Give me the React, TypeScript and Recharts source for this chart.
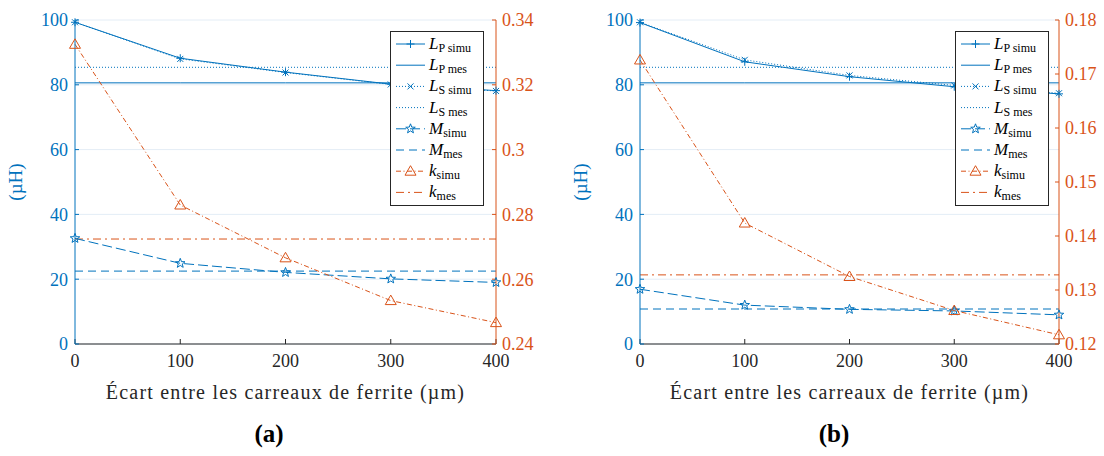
import React from "react";
import {
  ComposedChart,
  Line,
  XAxis,
  YAxis,
  CartesianGrid,
  Legend,
} from "recharts";

const BLUE = "#0072BD";
const ORANGE = "#D95319";
const DARK = "#262626";
const FONT = "Liberation Serif, DejaVu Serif, serif";

const X_VALUES = [0, 100, 200, 300, 400];
const X_TICKS = [0, 100, 200, 300, 400];
const L_TICKS = [0, 20, 40, 60, 80, 100];
const X_TITLE = "Écart entre les carreaux de ferrite (µm)";

// (a)
const LP_SIMU_A = [99.3, 88.2, 83.9, 80.2, 78.2];
const LS_SIMU_A = [99.3, 88.0, 83.8, 80.1, 78.1];
const LP_MES_A = 80.6;
const LS_MES_A = 85.4;
const M_SIMU_A = [32.6, 24.9, 22.1, 20.1, 19.0];
const M_MES_A = 22.5;
const K_SIMU_A = [0.3325, 0.2829, 0.2666, 0.2534, 0.2466];
const K_MES_A = 0.2724;
const K_TICKS_A = [0.24, 0.26, 0.28, 0.3, 0.32, 0.34];

// (b)
const LP_SIMU_B = [99.2, 87.1, 82.5, 79.4, 77.2];
const LS_SIMU_B = [99.3, 87.7, 82.9, 79.8, 77.4];
const LP_MES_B = 80.6;
const LS_MES_B = 85.4;
const M_SIMU_B = [16.9, 12.0, 10.7, 10.2, 9.0];
const M_MES_B = 10.8;
const K_SIMU_B = [0.1726, 0.1424, 0.1325, 0.1262, 0.1217];
const K_MES_B = 0.1328;
const K_TICKS_B = [0.12, 0.13, 0.14, 0.15, 0.16, 0.17, 0.18];

// marker shapes
const plusPath = (x: number, y: number) => `M${x - 4},${y}H${x + 4}M${x},${y - 4}V${y + 4}`;
const crossPath = (x: number, y: number) =>
  `M${x - 3},${y - 3}L${x + 3},${y + 3}M${x - 3},${y + 3}L${x + 3},${y - 3}`;
const starPath = (x: number, y: number) => {
  const pts: string[] = [];
  for (let i = 0; i < 10; i++) {
    const r = i % 2 === 0 ? 5 : 2.1;
    const a = -Math.PI / 2 + (i * Math.PI) / 5;
    pts.push(`${(x + r * Math.cos(a)).toFixed(2)},${(y + r * Math.sin(a)).toFixed(2)}`);
  }
  return "M" + pts.join("L") + "Z";
};
const triPath = (x: number, y: number) => `M${x},${y - 5.5}L${x + 5.5},${y + 4}L${x - 5.5},${y + 4}Z`;

const makeDot = (shape: (x: number, y: number) => string, color: string) => (p: any) => (
  <path
    key={`dot-${p.index}`}
    d={p.cx == null ? "" : shape(p.cx, p.cy)}
    stroke={color}
    strokeWidth={1}
    fill="none"
  />
);

const LEGEND_ROWS = [
  { main: "L", sub: "P simu", color: BLUE, dash: undefined, marker: plusPath },
  { main: "L", sub: "P mes", color: BLUE, dash: undefined, marker: null },
  { main: "L", sub: "S simu", color: BLUE, dash: "1 2", marker: crossPath },
  { main: "L", sub: "S mes", color: BLUE, dash: "1 2", marker: null },
  { main: "M", sub: "simu", color: BLUE, dash: "10 4", marker: starPath },
  { main: "M", sub: "mes", color: BLUE, dash: "8 5", marker: null },
  { main: "k", sub: "simu", color: ORANGE, dash: "5 2.5 1 2.5", marker: triPath },
  { main: "k", sub: "mes", color: ORANGE, dash: "8 4 2 4", marker: null },
];

const LegendBox = () => (
  <div style={{ border: `1px solid ${DARK}`, background: "#fff", width: 92, height: 173 }}>
    <svg width={92} height={173} style={{ display: "block" }}>
      {LEGEND_ROWS.map((r, i) => {
        const y = 12 + i * 21.2;
        return (
          <g key={i}>
            <line x1={5} x2={34} y1={y} y2={y} stroke={r.color} strokeDasharray={r.dash} />
            {r.marker && <path d={r.marker(19.5, y)} stroke={r.color} fill="none" />}
            <text x={38} y={y + 5} fill="#000" fontSize={17} fontFamily={FONT}>
              <tspan fontStyle="italic">{r.main}</tspan>
              <tspan fontSize={12} dy={3}>
                {r.sub}
              </tspan>
            </text>
          </g>
        );
      })}
    </svg>
  </div>
);

interface PanelProps {
  left: number;
  width: number;
  legendLeft: number;
  caption: string;
  lpSimu: number[];
  lsSimu: number[];
  lpMes: number;
  lsMes: number;
  mSimu: number[];
  mMes: number;
  kSimu: number[];
  kMes: number;
  kTicks: number[];
}

const Panel: React.FC<PanelProps> = (p) => {
  const data = X_VALUES.map((x, i) => ({
    x,
    lpSimu: p.lpSimu[i],
    lsSimu: p.lsSimu[i],
    lpMes: p.lpMes,
    lsMes: p.lsMes,
    mSimu: p.mSimu[i],
    mMes: p.mMes,
    kSimu: p.kSimu[i],
    kMes: p.kMes,
  }));
  const kDomain = [p.kTicks[0], p.kTicks[p.kTicks.length - 1]];

  return (
    <div style={{ position: "absolute", left: p.left, top: 0, width: p.width, height: 456, fontFamily: FONT }}>
      <ComposedChart
        width={p.width}
        height={456}
        data={data}
        margin={{ top: 20, right: 10, left: 30, bottom: 52 }}
      >
        <CartesianGrid
          yAxisId="left"
          vertical={false}
          stroke="#e4edf6"
          horizontalValues={L_TICKS}
        />
        <XAxis
          xAxisId="top"
          orientation="top"
          type="number"
          dataKey="x"
          domain={[0, 400]}
          ticks={X_TICKS}
          height={0}
          tick={false}
          tickSize={-5}
          axisLine={{ stroke: DARK }}
          tickLine={{ stroke: DARK }}
        />
        <XAxis
          type="number"
          dataKey="x"
          domain={[0, 400]}
          ticks={X_TICKS}
          height={60}
          tickSize={-5}
          tickMargin={15}
          tick={{ fill: DARK, fontSize: 18, fontFamily: FONT }}
          axisLine={{ stroke: DARK }}
          tickLine={{ stroke: DARK }}
          label={{
            value: X_TITLE,
            position: "insideBottom",
            offset: 5,
            fill: DARK,
            fontSize: 20,
            letterSpacing: 1.2,
            fontFamily: FONT,
          }}
        />
        <YAxis
          yAxisId="left"
          domain={[0, 100]}
          ticks={L_TICKS}
          width={45}
          tickSize={-4}
          tickMargin={11}
          tick={{ fill: BLUE, fontSize: 18, fontFamily: FONT }}
          axisLine={{ stroke: BLUE }}
          tickLine={{ stroke: BLUE }}
          label={{
            content: () => (
              <text
                x={22}
                y={182}
                transform="rotate(-90 22 182)"
                textAnchor="middle"
                fill={BLUE}
                fontSize={19}
                fontFamily={FONT}
              >
                (µH)
              </text>
            ),
          }}
        />
        <YAxis
          yAxisId="right"
          orientation="right"
          domain={kDomain}
          ticks={p.kTicks}
          width={50}
          tickSize={-4}
          tickMargin={10}
          tick={{ fill: ORANGE, fontSize: 18, textAnchor: "start", fontFamily: FONT }}
          axisLine={{ stroke: ORANGE }}
          tickLine={{ stroke: ORANGE }}
        />

        <Line yAxisId="left" dataKey="lpMes" stroke={BLUE} dot={false} isAnimationActive={false} />
        <Line yAxisId="left" dataKey="lsMes" stroke={BLUE} strokeDasharray="1 2" dot={false} isAnimationActive={false} />
        <Line yAxisId="left" dataKey="mMes" stroke={BLUE} strokeDasharray="8 5" dot={false} isAnimationActive={false} />
        <Line yAxisId="right" dataKey="kMes" stroke={ORANGE} strokeDasharray="8 4 2 4" dot={false} isAnimationActive={false} />
        <Line yAxisId="left" dataKey="lpSimu" stroke={BLUE} dot={makeDot(plusPath, BLUE)} isAnimationActive={false} />
        <Line
          yAxisId="left"
          dataKey="lsSimu"
          stroke={BLUE}
          strokeDasharray="1 2"
          dot={makeDot(crossPath, BLUE)}
          isAnimationActive={false}
        />
        <Line
          yAxisId="left"
          dataKey="mSimu"
          stroke={BLUE}
          strokeDasharray="10 4"
          dot={makeDot(starPath, BLUE)}
          isAnimationActive={false}
        />
        <Line
          yAxisId="right"
          dataKey="kSimu"
          stroke={ORANGE}
          strokeDasharray="5 2.5 1 2.5"
          dot={makeDot(triPath, ORANGE)}
          isAnimationActive={false}
        />
        <Legend
          layout="vertical"
          align="center"
          verticalAlign="middle"
          content={() => <LegendBox />}
          wrapperStyle={{ left: p.legendLeft, top: 31, width: 94, bottom: "auto", right: "auto" }}
        />
      </ComposedChart>
      {/* subfigure caption, centred on the whole panel */}
      <div
        style={{
          position: "absolute",
          left: 0,
          width: 538,
          top: 420,
          textAlign: "center",
          fontWeight: "bold",
          fontSize: 25,
          color: "#000",
        }}
      >
        {p.caption}
      </div>
    </div>
  );
};

export default function App() {
  return (
    <div style={{ position: "absolute", left: 0, top: 0, width: 1104, height: 456, background: "#fff" }}>
      <Panel
        left={0}
        width={556}
        legendLeft={390}
        caption="(a)"
        lpSimu={LP_SIMU_A}
        lsSimu={LS_SIMU_A}
        lpMes={LP_MES_A}
        lsMes={LS_MES_A}
        mSimu={M_SIMU_A}
        mMes={M_MES_A}
        kSimu={K_SIMU_A}
        kMes={K_MES_A}
        kTicks={K_TICKS_A}
      />
      <Panel
        left={565}
        width={554}
        legendLeft={390}
        caption="(b)"
        lpSimu={LP_SIMU_B}
        lsSimu={LS_SIMU_B}
        lpMes={LP_MES_B}
        lsMes={LS_MES_B}
        mSimu={M_SIMU_B}
        mMes={M_MES_B}
        kSimu={K_SIMU_B}
        kMes={K_MES_B}
        kTicks={K_TICKS_B}
      />
    </div>
  );
}
